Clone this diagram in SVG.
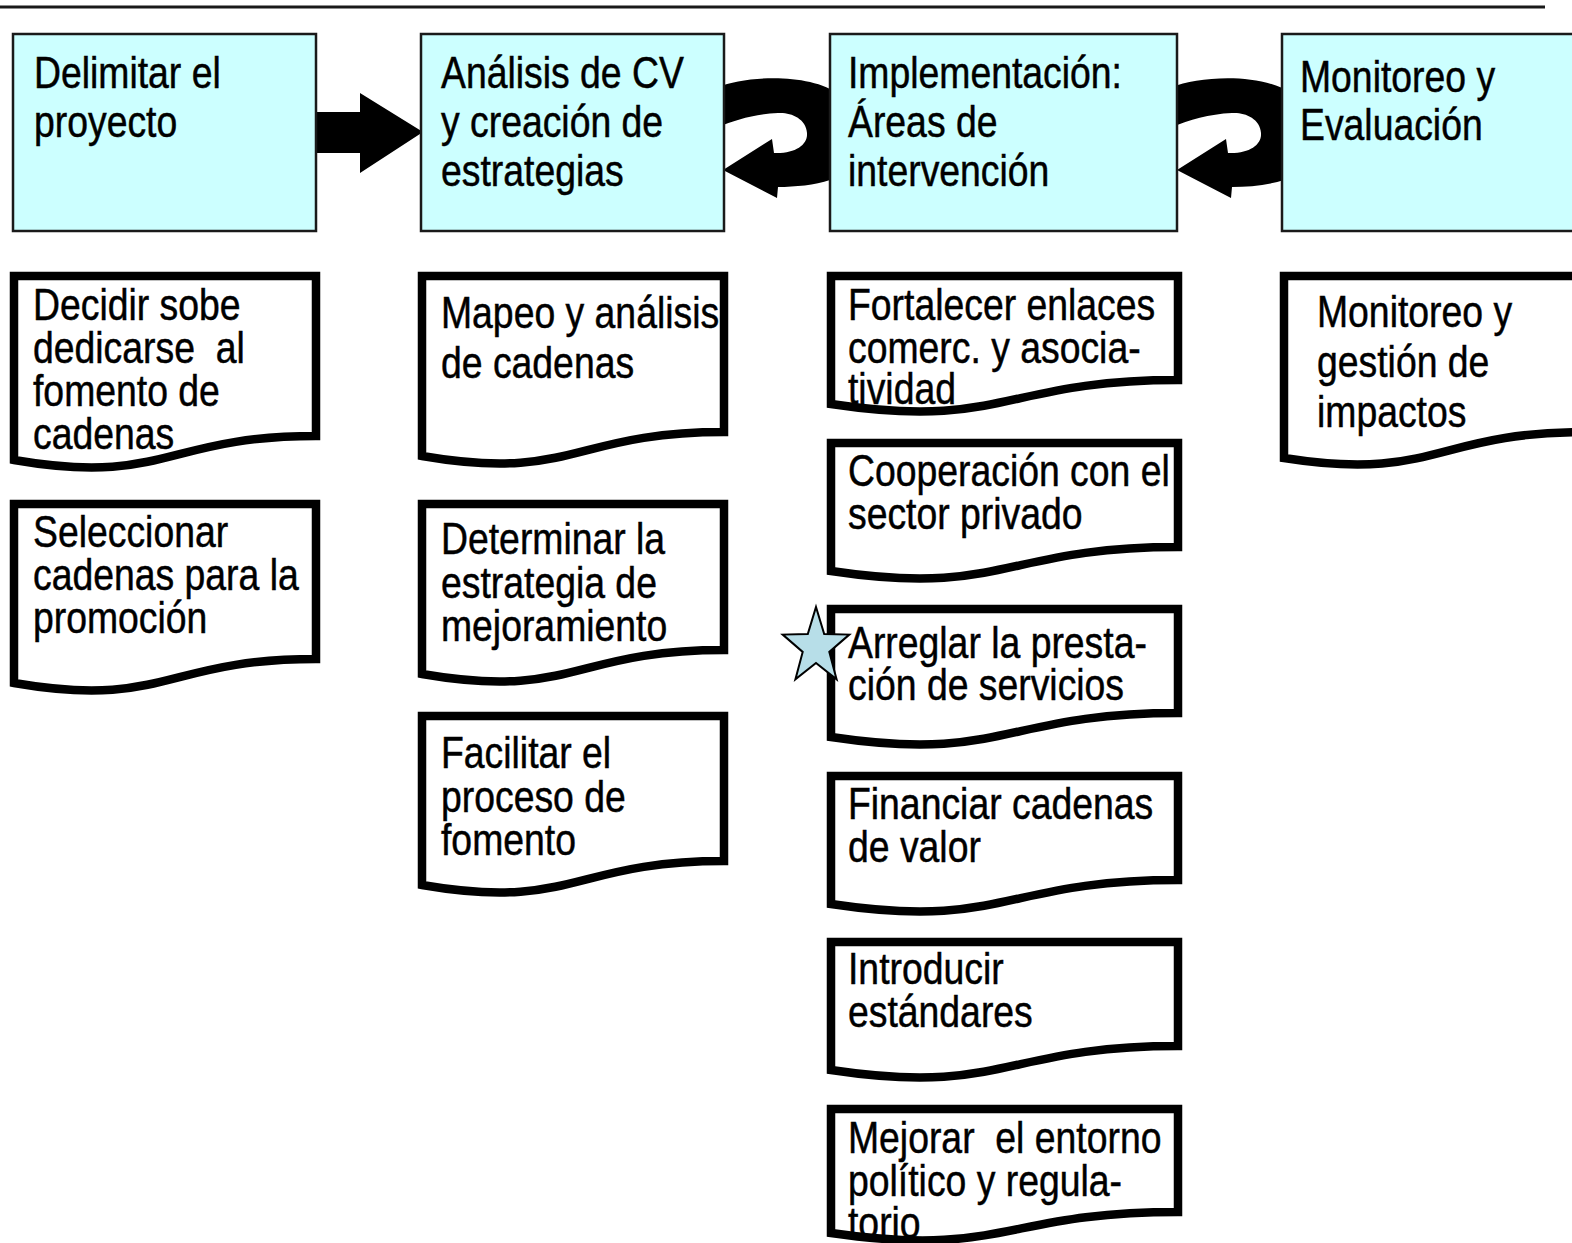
<svg xmlns="http://www.w3.org/2000/svg" xmlns:xlink="http://www.w3.org/1999/xlink" width="1572" height="1243" viewBox="0 0 1572 1243">
<style>
  .hdr { fill: #CCFFFF; stroke: #1a1a1a; stroke-width: 2.5; }
  .docfill { fill: #ffffff; stroke: none; }
  .docline { fill: none; stroke: #000000; stroke-width: 8.5; stroke-linejoin: miter; }
  .arrow { fill: #000000; stroke: none; }
  text { font-family: "Liberation Sans", Arial, sans-serif; font-size: 45px; fill: #000000; stroke: #000000; stroke-width: 0.5; }
  .star { fill: #B7DEE8; stroke: #000000; stroke-width: 2; }
</style>
<defs>
  <path id="curl" d="M 718 87 C 745 76, 810 72, 840 95 C 860 120, 855 170, 830 180 C 815 185, 795 187, 778 187 L 777 198 L 723 170 L 772 139 L 774 153 C 795 154, 808 145, 807 133 C 806 118, 790 112, 778 113 C 755 114, 735 120, 718 127 Z"/>
  <path id="d1" d="M14,276 H316 V436 C165,436 165,486 14,460 Z"/>
  <path id="d2" d="M14,504 H316 V659 C165,659 165,709 14,683 Z"/>
  <path id="d3" d="M422,276 H724 V432 C573,432 573,482 422,456 Z"/>
  <path id="d4" d="M422,504 H724 V650 C573,650 573,700 422,674 Z"/>
  <path id="d5" d="M422,716 H724 V861 C573,861 573,911 422,885 Z"/>
  <path id="d6" d="M831,276 H1178 V380 C1004,380 1004,430 831,404 Z"/>
  <path id="d7" d="M831,443 H1178 V547 C1004,547 1004,597 831,571 Z"/>
  <path id="d8" d="M831,609 H1178 V713 C1004,713 1004,763 831,737 Z"/>
  <path id="d9" d="M831,776 H1178 V880 C1004,880 1004,930 831,904 Z"/>
  <path id="d10" d="M831,942 H1178 V1046 C1004,1046 1004,1096 831,1070 Z"/>
  <path id="d11" d="M831,1109 H1178 V1212 C1004,1212 1004,1258 831,1233 Z"/>
  <path id="d12" d="M1284,276 H1586 V432 C1435,432 1435,482 1284,458 Z"/>
</defs>

<line x1="0" y1="7" x2="1545" y2="7" stroke="#1a1a1a" stroke-width="3"/>

<g id="connectors">
  <polygon class="arrow" points="310,112 360,112 360,93 423,132 360,173 360,153 310,153"/>
  <use xlink:href="#curl" class="arrow"/>
  <use xlink:href="#curl" class="arrow" transform="translate(454,0)"/>
</g>

<g id="step1">
  <rect class="hdr" x="13" y="34" width="303" height="197"/>
  <text transform="translate(34,88) scale(0.83,1)">Delimitar el</text>
  <text transform="translate(34,137) scale(0.83,1)">proyecto</text>
</g>
<g id="step2">
  <rect class="hdr" x="421" y="34" width="303" height="197"/>
  <text transform="translate(441,88) scale(0.83,1)">Análisis de CV</text>
  <text transform="translate(441,137) scale(0.83,1)">y creación de</text>
  <text transform="translate(441,186) scale(0.83,1)">estrategias</text>
</g>
<g id="step3">
  <rect class="hdr" x="830" y="34" width="347" height="197"/>
  <text transform="translate(848,88) scale(0.83,1)">Implementación:</text>
  <text transform="translate(848,137) scale(0.83,1)">Áreas de</text>
  <text transform="translate(848,186) scale(0.83,1)">intervención</text>
</g>
<g id="step4">
  <rect class="hdr" x="1282" y="34" width="300" height="197"/>
  <text transform="translate(1300,92) scale(0.83,1)">Monitoreo y</text>
  <text transform="translate(1300,140) scale(0.83,1)">Evaluación</text>
</g>

<g id="doc-decidir">
  <use xlink:href="#d1" class="docfill"/>
  <text transform="translate(33,320) scale(0.83,1)">Decidir sobe</text>
  <text transform="translate(33,363) scale(0.83,1)" xml:space="preserve">dedicarse  al</text>
  <text transform="translate(33,406) scale(0.83,1)">fomento de</text>
  <text transform="translate(33,449) scale(0.83,1)">cadenas</text>
  <use xlink:href="#d1" class="docline"/>
</g>
<g id="doc-seleccionar">
  <use xlink:href="#d2" class="docfill"/>
  <text transform="translate(33,547) scale(0.83,1)">Seleccionar</text>
  <text transform="translate(33,590) scale(0.83,1)">cadenas para la</text>
  <text transform="translate(33,633) scale(0.83,1)">promoción</text>
  <use xlink:href="#d2" class="docline"/>
</g>
<g id="doc-mapeo">
  <use xlink:href="#d3" class="docfill"/>
  <text transform="translate(441,328) scale(0.83,1)">Mapeo y análisis</text>
  <text transform="translate(441,378) scale(0.83,1)">de cadenas</text>
  <use xlink:href="#d3" class="docline"/>
</g>
<g id="doc-determinar">
  <use xlink:href="#d4" class="docfill"/>
  <text transform="translate(441,554) scale(0.83,1)">Determinar la</text>
  <text transform="translate(441,598) scale(0.83,1)">estrategia de</text>
  <text transform="translate(441,641) scale(0.83,1)">mejoramiento</text>
  <use xlink:href="#d4" class="docline"/>
</g>
<g id="doc-facilitar">
  <use xlink:href="#d5" class="docfill"/>
  <text transform="translate(441,768) scale(0.83,1)">Facilitar el</text>
  <text transform="translate(441,812) scale(0.83,1)">proceso de</text>
  <text transform="translate(441,855) scale(0.83,1)">fomento</text>
  <use xlink:href="#d5" class="docline"/>
</g>
<g id="doc-fortalecer">
  <use xlink:href="#d6" class="docfill"/>
  <text transform="translate(848,320) scale(0.83,1)">Fortalecer enlaces</text>
  <text transform="translate(848,363) scale(0.83,1)">comerc. y asocia-</text>
  <text transform="translate(848,404) scale(0.83,1)">tividad</text>
  <use xlink:href="#d6" class="docline"/>
</g>
<g id="doc-cooperacion">
  <use xlink:href="#d7" class="docfill"/>
  <text transform="translate(848,486) scale(0.83,1)">Cooperación con el</text>
  <text transform="translate(848,529) scale(0.83,1)">sector privado</text>
  <use xlink:href="#d7" class="docline"/>
</g>
<g id="doc-arreglar">
  <use xlink:href="#d8" class="docfill"/>
  <text transform="translate(848,658) scale(0.83,1)">Arreglar la presta-</text>
  <text transform="translate(848,700) scale(0.83,1)">ción de servicios</text>
  <use xlink:href="#d8" class="docline"/>
</g>
<g id="doc-financiar">
  <use xlink:href="#d9" class="docfill"/>
  <text transform="translate(848,819) scale(0.83,1)">Financiar cadenas</text>
  <text transform="translate(848,862) scale(0.83,1)">de valor</text>
  <use xlink:href="#d9" class="docline"/>
</g>
<g id="doc-introducir">
  <use xlink:href="#d10" class="docfill"/>
  <text transform="translate(848,984) scale(0.83,1)">Introducir</text>
  <text transform="translate(848,1027) scale(0.83,1)">estándares</text>
  <use xlink:href="#d10" class="docline"/>
</g>
<g id="doc-mejorar">
  <use xlink:href="#d11" class="docfill"/>
  <text transform="translate(848,1153) scale(0.83,1)" xml:space="preserve">Mejorar  el entorno</text>
  <text transform="translate(848,1196) scale(0.83,1)">político y regula-</text>
  <text transform="translate(848,1238) scale(0.83,1)">torio</text>
  <use xlink:href="#d11" class="docline"/>
</g>
<g id="doc-monitoreo">
  <use xlink:href="#d12" class="docfill"/>
  <text transform="translate(1317,327) scale(0.83,1)">Monitoreo y</text>
  <text transform="translate(1317,377) scale(0.83,1)">gestión de</text>
  <text transform="translate(1317,427) scale(0.83,1)">impactos</text>
  <use xlink:href="#d12" class="docline"/>
</g>

<g id="star">
  <polygon class="star" points="816,607 824.2,634.1 849.3,634.6 829.3,651.9 836.6,679.4 816,663 795.4,679.4 802.7,651.9 782.7,634.6 807.8,634.1"/>
</g>
</svg>
